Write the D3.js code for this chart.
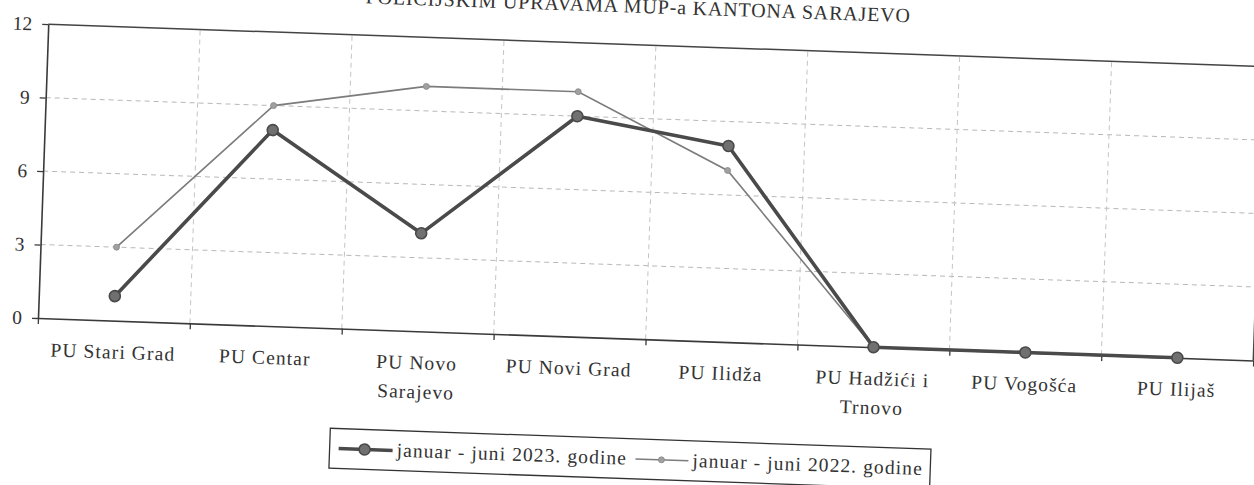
<!DOCTYPE html>
<html>
<head>
<meta charset="utf-8">
<script src="https://cdn.jsdelivr.net/npm/d3@7"></script>
<style>
  body { margin: 0; background: #ffffff; }
  svg text { font-family: "Liberation Serif", "Times New Roman", serif; fill: #333; }
</style>
</head>
<body>
<script>
// police administrations (x categories)
var categories = ["PU Stari Grad", "PU Centar", "PU Novo Sarajevo", "PU Novi Grad",
                  "PU Ilidža", "PU Hadžići i Trnovo", "PU Vogošća", "PU Ilijaš"];
var values2023 = [1, 8, 4, 9, 8, 0, 0, 0];
var values2022 = [3, 9, 10, 10, 7, 0, 0, 0];
var yTicks = [0, 3, 6, 9, 12];
var seriesNames = ["januar - juni 2023. godine", "januar - juni 2022. godine"];
var titleText = "POLICIJSKIM UPRAVAMA MUP-a KANTONA SARAJEVO";

var svg_width = 1254, svg_height = 485;
var plot_width = 1216, plot_height = 294;
var origin = {x: 38, y: 318};
var skew = 2; // the scanned page is a little tilted

var svg = d3.select("body").append("svg")
            .attr("width", svg_width).attr("height", svg_height);

svg.append("rect").attr("width", svg_width).attr("height", svg_height).attr("fill", "#fff");

var chart = svg.append("g")
               .attr("transform", "translate(" + origin.x + "," + origin.y + ") rotate(" + skew + ")");

var x = d3.scaleBand().domain(categories).range([0, plot_width]);
var xb = d3.scaleLinear().domain([0, categories.length]).range([0, plot_width]);
var y = d3.scaleLinear().domain([0, 12]).range([0, -plot_height]);

function cx(d) { return x(d) + x.bandwidth() / 2; }

// grid
chart.append("g").selectAll("line.hgrid")
     .data([3, 6, 9]).enter().append("line")
     .attr("x1", 0).attr("x2", plot_width)
     .attr("y1", function(d) { return y(d); })
     .attr("y2", function(d) { return y(d); })
     .attr("stroke", "#b8b8b8").attr("stroke-dasharray", "5,4");

chart.append("g").selectAll("line.vgrid")
     .data(d3.range(1, categories.length)).enter().append("line")
     .attr("x1", function(d) { return xb(d); })
     .attr("x2", function(d) { return xb(d); })
     .attr("y1", 0).attr("y2", -plot_height)
     .attr("stroke", "#c4c4c4").attr("stroke-dasharray", "5,4");

// top and right border
chart.append("path")
     .attr("d", "M0," + y(12) + "H" + plot_width + "V0")
     .attr("fill", "none").attr("stroke", "#444").attr("stroke-width", 1.5);

// axes
var yAxis = d3.axisLeft(y).tickValues(yTicks).tickSize(6).tickSizeOuter(0).tickPadding(10);
var xAxis = d3.axisBottom(xb).ticks(categories.length).tickSize(6).tickSizeOuter(0).tickFormat("");

var gy = chart.append("g").call(yAxis);
var gx = chart.append("g").call(xAxis);

[gy, gx].forEach(function(g)
{
  g.select(".domain").attr("stroke", "#3a3a3a").attr("stroke-width", 1.6);
  g.selectAll(".tick line").attr("stroke", "#3a3a3a").attr("stroke-width", 1.3);
});
gy.selectAll(".tick text")
  .style("font-family", "Liberation Serif").style("font-size", "19.5px")
  .attr("fill", "#333");

// category labels, wrapped
var labels = chart.append("g").selectAll("text.cat")
     .data(categories).enter().append("text")
     .attr("class", "cat")
     .attr("text-anchor", "middle")
     .attr("font-size", "19.5px")
     .attr("letter-spacing", "1.1px")
     .attr("x", cx)
     .attr("y", 38);

labels.each(function(d)
{
  var t = d3.select(this);
  var words = d.split(" ");
  var lines = [], line = [];
  var probe = t.append("tspan");
  words.forEach(function(w)
  {
    line.push(w);
    probe.text(line.join(" "));
    if (probe.node().getComputedTextLength() > 140 && line.length > 1)
    {
      line.pop();
      lines.push(line.join(" "));
      line = [w];
    }
  });
  lines.push(line.join(" "));
  probe.remove();
  lines.forEach(function(l, i)
  {
    t.append("tspan").attr("x", cx(d)).attr("dy", i == 0 ? 0 : 29).text(l);
  });
});

// series
var line = d3.line()
             .x(function(d, i) { return cx(categories[i]); })
             .y(function(d) { return y(d); });

chart.append("path").datum(values2022)
     .attr("d", line).attr("fill", "none")
     .attr("stroke", "#7c7c7c").attr("stroke-width", 1.6);

chart.append("path").datum(values2023)
     .attr("d", line).attr("fill", "none")
     .attr("stroke", "#4a4a4a").attr("stroke-width", 3.6).attr("stroke-linejoin", "round");

chart.append("g").selectAll("circle.s22")
     .data(values2022).enter().append("circle")
     .attr("cx", function(d, i) { return cx(categories[i]); })
     .attr("cy", function(d) { return y(d); })
     .attr("r", 3).attr("fill", "#a0a0a0").attr("stroke", "#888").attr("stroke-width", 0.8);

chart.append("g").selectAll("circle.s23")
     .data(values2023).enter().append("circle")
     .attr("cx", function(d, i) { return cx(categories[i]); })
     .attr("cy", function(d) { return y(d); })
     .attr("r", 5.5).attr("fill", "#707070").attr("stroke", "#4a4a4a").attr("stroke-width", 1.6);

// title (top of the page is cut off in the scan)
chart.append("text")
     .attr("x", 589).attr("y", -326)
     .attr("text-anchor", "middle")
     .attr("font-size", "20px")
     .attr("letter-spacing", "0.85px")
     .text(titleText);

// legend
var legend = chart.append("g").attr("transform", "translate(296,100)");
legend.append("rect").attr("width", 601).attr("height", 40)
      .attr("fill", "none").attr("stroke", "#333").attr("stroke-width", 1.3);

legend.append("line").attr("x1", 9).attr("x2", 63).attr("y1", 20).attr("y2", 20)
      .attr("stroke", "#4a4a4a").attr("stroke-width", 3.6);
legend.append("circle").attr("cx", 35).attr("cy", 20).attr("r", 5.5)
      .attr("fill", "#707070").attr("stroke", "#4a4a4a").attr("stroke-width", 1.6);
legend.append("text").attr("x", 67).attr("y", 26)
      .attr("font-size", "19.5px").attr("letter-spacing", "1.1px")
      .text(seriesNames[0]);

legend.append("line").attr("x1", 306).attr("x2", 359).attr("y1", 20).attr("y2", 20)
      .attr("stroke", "#7c7c7c").attr("stroke-width", 1.6);
legend.append("circle").attr("cx", 332).attr("cy", 20).attr("r", 3)
      .attr("fill", "#a0a0a0").attr("stroke", "#888").attr("stroke-width", 0.8);
legend.append("text").attr("x", 363).attr("y", 26)
      .attr("font-size", "19.5px").attr("letter-spacing", "1.1px")
      .text(seriesNames[1]);
</script>
</body>
</html>
